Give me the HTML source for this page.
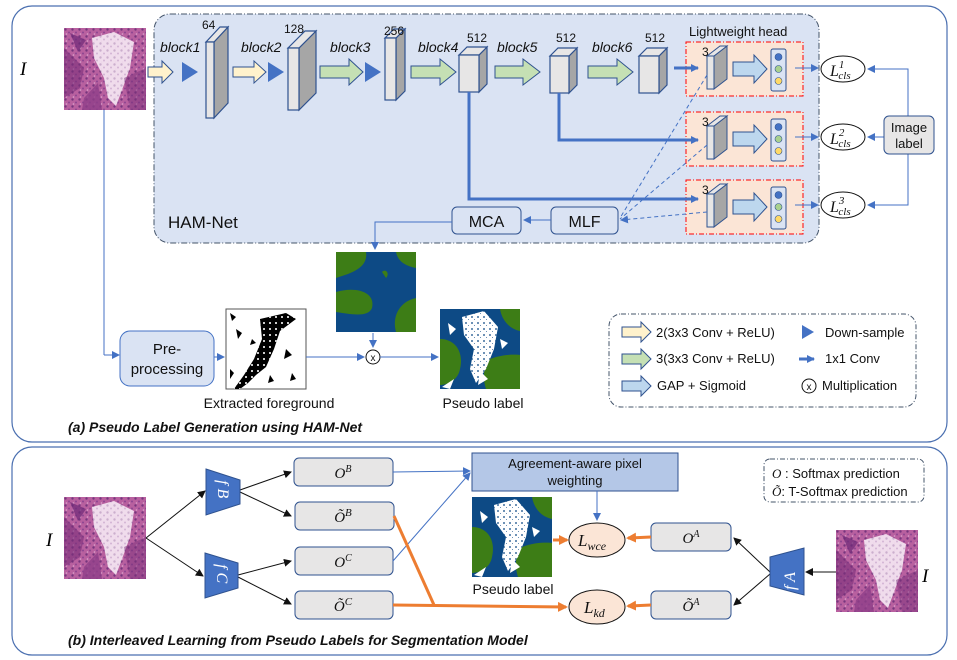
<!DOCTYPE html>
<html><head><meta charset="utf-8"><style>
html,body{margin:0;padding:0;background:#fff;}
svg{display:block;font-family:"Liberation Sans",sans-serif;}
.sr{font-family:"Liberation Serif",serif;font-style:italic;}
</style></head><body>
<svg width="957" height="660" viewBox="0 0 957 660" xmlns="http://www.w3.org/2000/svg">
<defs>
<marker id="ab" markerWidth="8" markerHeight="8" refX="7" refY="4" orient="auto" markerUnits="userSpaceOnUse"><path d="M0,0 L8,4 L0,8 z" fill="#4472c4"/></marker>
<marker id="abk" markerWidth="8" markerHeight="8" refX="7" refY="4" orient="auto" markerUnits="userSpaceOnUse"><path d="M0,0 L8,4 L0,8 z" fill="#111"/></marker>
<marker id="ao" markerWidth="10" markerHeight="10" refX="8" refY="5" orient="auto" markerUnits="userSpaceOnUse"><path d="M0,0 L10,5 L0,10 z" fill="#ed7d31"/></marker>
<pattern id="dots" width="7" height="7" patternUnits="userSpaceOnUse">
<circle cx="1.5" cy="1.5" r="1.2" fill="#5a2470"/><circle cx="5" cy="4.5" r="1" fill="#7a3a8a"/><circle cx="2.5" cy="6" r=".8" fill="#e8c0e0"/>
</pattern>
<pattern id="spk" width="6" height="6" patternUnits="userSpaceOnUse">
<rect x="1" y="1" width="2" height="2" fill="#0d4a85"/><rect x="4" y="4" width="1" height="1" fill="#0d4a85"/>
</pattern>
<pattern id="spk2" width="6" height="6" patternUnits="userSpaceOnUse">
<rect x="1" y="1" width="2" height="2" fill="#fff"/><rect x="4" y="4" width="1" height="1" fill="#000"/>
</pattern>
<g id="histo">
<rect x="0" y="0" width="82" height="82" fill="#b8609f"/>
<rect x="0" y="0" width="82" height="82" fill="url(#dots)" opacity=".7"/>
<path d="M28,10 L50,4 L70,14 L66,40 L58,62 L52,78 L44,70 L40,50 L30,30 z" fill="#f0dcec"/>
<path d="M28,10 L50,4 L70,14 L66,40 L58,62 L52,78 L44,70 L40,50 L30,30 z" fill="url(#dots)" opacity=".25"/>
<path d="M0,20 L20,40 L16,60 L0,70 z" fill="#7a2f7a" opacity=".6"/>
<path d="M60,50 L82,40 L82,82 L66,82 z" fill="#7a2f7a" opacity=".5"/>
<path d="M20,70 L34,55 L38,82 L18,82 z" fill="#8e3f88" opacity=".8"/>
<path d="M6,5 L22,12 L14,24 z" fill="#6d2a78" opacity=".7"/>
</g>
<g id="map">
<rect width="80" height="80" fill="#0d4a85"/>
<path d="M0,0 L30,0 C32,12 22,18 12,22 L0,26 z" fill="#3d7d16"/>
<path d="M0,40 C20,34 40,40 36,56 C32,66 14,62 0,60 z" fill="#3d7d16"/>
<path d="M60,0 L80,0 L80,16 C70,14 62,10 60,0z" fill="#3d7d16"/>
<path d="M80,46 C62,50 56,66 60,80 L80,80 z" fill="#3d7d16"/>
<path d="M46,20 C50,16 54,22 50,26 z" fill="#3d7d16"/>
</g>
<g id="pl">
<rect width="80" height="80" fill="#0d4a85"/>
<path d="M0,30 C16,30 24,44 20,60 C18,72 6,76 0,76 z" fill="#3d7d16"/>
<path d="M50,50 C66,44 80,46 80,46 L80,80 L46,80 C42,68 44,56 50,50 z" fill="#3d7d16"/>
<path d="M60,0 L80,0 L80,22 C70,20 62,12 60,0 z" fill="#3d7d16"/>
<path d="M22,8 L44,2 L58,18 L54,40 L46,60 L36,74 L30,60 L34,40 L24,26 z" fill="#fff"/>
<path d="M22,8 L44,2 L58,18 L54,40 L46,60 L36,74 L30,60 L34,40 L24,26 z" fill="url(#spk)" opacity=".6"/>
<path d="M8,14 L16,20 L10,26 z M60,30 L68,34 L62,40 z M40,62 L48,70 L38,76 z M2,78 L14,70 L10,80z" fill="#fff"/>
</g>
<g id="fg">
<rect width="80" height="80" fill="#fff" stroke="#555" stroke-width="1"/>
<path d="M34,10 L60,4 L70,10 L54,22 L48,40 L40,58 L30,66 L22,74 L14,80 L8,80 L18,66 L28,50 L36,30 z" fill="#000"/>
<path d="M34,10 L60,4 L70,10 L54,22 L48,40 L40,58 L30,66 L22,74 L14,80 L8,80 L18,66 L28,50 L36,30 z" fill="url(#spk2)" opacity=".8"/>
<path d="M10,20 L16,24 L12,30 z M60,40 L66,46 L58,50z M4,60 L8,64 L4,70z M44,66 L48,72 L42,74z M26,30 L30,34 L24,36z M4,4 L10,8 L6,12z M66,64 L70,70 L64,72z" fill="#000"/>
</g>
</defs>

<rect x="12" y="6" width="935" height="436" rx="20" fill="#fff" stroke="#4a6fb0" stroke-width="1.2"/>
<rect x="12" y="447" width="935" height="208" rx="20" fill="#fff" stroke="#4a6fb0" stroke-width="1.2"/>

<rect x="154" y="14" width="665" height="229" rx="16" fill="#dae3f3" stroke="#44546a" stroke-width="1" stroke-dasharray="6,2,1,2"/>
<text x="168" y="228" font-size="17" fill="#111">HAM-Net</text>

<use href="#histo" x="64" y="28"/>
<text x="20" y="75" class="sr" font-size="19">I</text>
<line x1="104" y1="110" x2="104" y2="355" stroke="#4472c4" stroke-width="1"/>
<line x1="104" y1="355" x2="119" y2="355" stroke="#4472c4" stroke-width="1" marker-end="url(#ab)"/>

<g stroke="#2f528f" stroke-width="1">
<path d="M148,67 L162,67 L162,61 L173,72 L162,83 L162,77 L148,77 z" fill="#fff2cc"/>
<path d="M233,67 L254,67 L254,61 L266,72 L254,83 L254,77 L233,77 z" fill="#fff2cc"/>
<path d="M320,66 L349,66 L349,59 L363,72 L349,85 L349,78 L320,78 z" fill="#c5e0b4"/>
<path d="M411,66 L440,66 L440,59 L456,72 L440,85 L440,78 L411,78 z" fill="#c5e0b4"/>
<path d="M495,66 L523,66 L523,59 L540,72 L523,85 L523,78 L495,78 z" fill="#c5e0b4"/>
<path d="M588,66 L617,66 L617,59 L633,72 L617,85 L617,78 L588,78 z" fill="#c5e0b4"/>
</g>
<g fill="#4472c4">
<path d="M182,62 L198,72 L182,82 z"/>
<path d="M268,62 L284,72 L268,82 z"/>
<path d="M365,62 L381,72 L365,82 z"/>
</g>

<g stroke="#2f528f" stroke-width="1.2">
<path d="M214,42 L228,27 L228,103 L214,118 z" fill="#a6a6a6"/>
<path d="M206,42 L220,27 L228,27 L214,42 z" fill="#e7e6e6"/>
<rect x="206" y="42" width="8" height="76" fill="#e7e6e6"/>
<path d="M299,48 L316,31 L316,93 L299,110 z" fill="#a6a6a6"/>
<path d="M288,48 L305,31 L316,31 L299,48 z" fill="#e7e6e6"/>
<rect x="288" y="48" width="11" height="62" fill="#e7e6e6"/>
<path d="M396,38 L405,29 L405,91 L396,100 z" fill="#a6a6a6"/>
<path d="M385,38 L394,29 L405,29 L396,38 z" fill="#e7e6e6"/>
<rect x="385" y="38" width="11" height="62" fill="#e7e6e6"/>
<path d="M479,55 L487,47 L487,84 L479,92 z" fill="#a6a6a6"/>
<path d="M459,55 L467,47 L487,47 L479,55 z" fill="#e7e6e6"/>
<rect x="459" y="55" width="20" height="37" fill="#e7e6e6"/>
<path d="M569,56 L577,48 L577,85 L569,93 z" fill="#a6a6a6"/>
<path d="M550,56 L558,48 L577,48 L569,56 z" fill="#e7e6e6"/>
<rect x="550" y="56" width="19" height="37" fill="#e7e6e6"/>
<path d="M659,56 L667,48 L667,85 L659,93 z" fill="#a6a6a6"/>
<path d="M639,56 L647,48 L667,48 L659,56 z" fill="#e7e6e6"/>
<rect x="639" y="56" width="20" height="37" fill="#e7e6e6"/>
</g>
<g font-size="14" font-style="italic" fill="#111">
<text x="160" y="52">block1</text><text x="241" y="52">block2</text><text x="330" y="52">block3</text>
<text x="418" y="52">block4</text><text x="497" y="52">block5</text><text x="592" y="52">block6</text>
</g>
<g font-size="12" fill="#111">
<text x="202" y="29">64</text><text x="284" y="33">128</text><text x="384" y="35">256</text>
<text x="467" y="42">512</text><text x="556" y="42">512</text><text x="645" y="42">512</text>
</g>

<text x="689" y="36" font-size="13" fill="#111">Lightweight head</text>
<g>
<rect x="686" y="42" width="117" height="54" fill="#fbe5d6" stroke="#ff0000" stroke-width="1" stroke-dasharray="5,2,1,2"/>
<rect x="686" y="112" width="117" height="54" fill="#fbe5d6" stroke="#ff0000" stroke-width="1" stroke-dasharray="5,2,1,2"/>
<rect x="686" y="180" width="117" height="54" fill="#fbe5d6" stroke="#ff0000" stroke-width="1" stroke-dasharray="5,2,1,2"/>
</g>
<g stroke="#2f528f" stroke-width="1">
<g transform="translate(707,46)"><path d="M7,10 L20,0 L20,33 L7,43 z" fill="#a6a6a6"/><rect x="0" y="10" width="7" height="33" fill="#e7e6e6"/><path d="M0,10 L13,0 L20,0 L7,10z" fill="#e7e6e6"/></g>
<g transform="translate(707,116)"><path d="M7,10 L20,0 L20,33 L7,43 z" fill="#a6a6a6"/><rect x="0" y="10" width="7" height="33" fill="#e7e6e6"/><path d="M0,10 L13,0 L20,0 L7,10z" fill="#e7e6e6"/></g>
<g transform="translate(707,184)"><path d="M7,10 L20,0 L20,33 L7,43 z" fill="#a6a6a6"/><rect x="0" y="10" width="7" height="33" fill="#e7e6e6"/><path d="M0,10 L13,0 L20,0 L7,10z" fill="#e7e6e6"/></g>
<path d="M733,62 L754,62 L754,55 L767,69 L754,83 L754,76 L733,76 z" fill="#bdd7ee"/>
<path d="M733,132 L754,132 L754,125 L767,139 L754,153 L754,146 L733,146 z" fill="#bdd7ee"/>
<path d="M733,200 L754,200 L754,193 L767,207 L754,221 L754,214 L733,214 z" fill="#bdd7ee"/>
<rect x="771" y="49" width="15" height="42" rx="2" fill="#dae3f3"/>
<rect x="771" y="119" width="15" height="42" rx="2" fill="#dae3f3"/>
<rect x="771" y="187" width="15" height="42" rx="2" fill="#dae3f3"/>
</g>
<g stroke="#2f528f" stroke-width=".6">
<circle cx="778.5" cy="57" r="3.5" fill="#4472c4"/><circle cx="778.5" cy="69" r="3.5" fill="#a9d18e"/><circle cx="778.5" cy="81" r="3.5" fill="#ffd966"/>
<circle cx="778.5" cy="127" r="3.5" fill="#4472c4"/><circle cx="778.5" cy="139" r="3.5" fill="#a9d18e"/><circle cx="778.5" cy="151" r="3.5" fill="#ffd966"/>
<circle cx="778.5" cy="195" r="3.5" fill="#4472c4"/><circle cx="778.5" cy="207" r="3.5" fill="#a9d18e"/><circle cx="778.5" cy="219" r="3.5" fill="#ffd966"/>
</g>
<g font-size="12" fill="#111"><text x="702" y="56">3</text><text x="702" y="126">3</text><text x="702" y="194">3</text></g>

<g stroke="#4472c4" stroke-width="3" fill="none">
<path d="M469,92 L469,199 L698,199" marker-end="url(#ab)"/>
<path d="M559,93 L559,140 L698,140" marker-end="url(#ab)"/>
<path d="M674,68 L698,68" marker-end="url(#ab)"/>
</g>
<g stroke="#4472c4" stroke-width="1" stroke-dasharray="4,3" fill="none">
<line x1="707" y1="75" x2="620" y2="218"/>
<line x1="707" y1="145" x2="620" y2="219"/>
<line x1="707" y1="212" x2="621" y2="220" marker-end="url(#ab)"/>
</g>
<rect x="551" y="207" width="67" height="27" rx="5" fill="#dae3f3" stroke="#2f528f" stroke-width="1"/>
<text x="584.5" y="227" font-size="16" text-anchor="middle" fill="#111">MLF</text>
<rect x="452" y="207" width="69" height="27" rx="5" fill="#dae3f3" stroke="#2f528f" stroke-width="1"/>
<text x="486.5" y="227" font-size="16" text-anchor="middle" fill="#111">MCA</text>
<line x1="551" y1="220" x2="524" y2="220" stroke="#4472c4" stroke-width="1" marker-end="url(#ab)"/>
<path d="M452,222 L375,222 L375,249" stroke="#4472c4" stroke-width="1" fill="none" marker-end="url(#ab)"/>

<g stroke="#4472c4" stroke-width="1" fill="none">
<line x1="795" y1="68" x2="818" y2="68" marker-end="url(#ab)"/>
<line x1="795" y1="137" x2="818" y2="137" marker-end="url(#ab)"/>
<line x1="795" y1="205" x2="818" y2="205" marker-end="url(#ab)"/>
<path d="M908,116 L908,69 L868,69" marker-end="url(#ab)"/>
<path d="M884,137 L868,137" marker-end="url(#ab)"/>
<path d="M908,153 L908,205 L868,205" marker-end="url(#ab)"/>
</g>
<g fill="#fff" stroke="#111" stroke-width="1">
<ellipse cx="843" cy="69" rx="22" ry="13"/><ellipse cx="843" cy="137" rx="22" ry="13"/><ellipse cx="843" cy="205" rx="22" ry="13"/>
</g>
<g class="sr" fill="#111">
<text x="830" y="76" font-size="16">L<tspan font-size="11" dy="-8">1</tspan><tspan font-size="11" dx="-6" dy="11">cls</tspan></text>
<text x="830" y="144" font-size="16">L<tspan font-size="11" dy="-8">2</tspan><tspan font-size="11" dx="-6" dy="11">cls</tspan></text>
<text x="830" y="212" font-size="16">L<tspan font-size="11" dy="-8">3</tspan><tspan font-size="11" dx="-6" dy="11">cls</tspan></text>
</g>
<rect x="884" y="116" width="50" height="38" rx="5" fill="#e7e6e6" stroke="#2f528f" stroke-width="1"/>
<text x="909" y="132" font-size="13" text-anchor="middle" fill="#111">Image</text>
<text x="909" y="148" font-size="13" text-anchor="middle" fill="#111">label</text>

<use href="#map" x="336" y="252"/>
<line x1="373" y1="333" x2="373" y2="347" stroke="#4472c4" stroke-width="1" marker-end="url(#ab)"/>
<rect x="120" y="331" width="94" height="55" rx="10" fill="#dae3f3" stroke="#4472c4" stroke-width="1"/>
<text x="167" y="354" font-size="15" text-anchor="middle" fill="#111">Pre-</text>
<text x="167" y="374" font-size="15" text-anchor="middle" fill="#111">processing</text>
<line x1="214" y1="357" x2="224" y2="357" stroke="#4472c4" stroke-width="1" marker-end="url(#ab)"/>
<use href="#fg" x="226" y="309"/>
<text x="269" y="408" font-size="14" text-anchor="middle" fill="#111">Extracted foreground</text>
<line x1="306" y1="357" x2="364" y2="357" stroke="#4472c4" stroke-width="1" marker-end="url(#ab)"/>
<circle cx="373" cy="357" r="7" fill="#fff" stroke="#111" stroke-width="1"/>
<text x="373" y="361" font-size="10" text-anchor="middle" fill="#111">x</text>
<line x1="380" y1="357" x2="438" y2="357" stroke="#4472c4" stroke-width="1" marker-end="url(#ab)"/>
<use href="#pl" x="440" y="309"/>
<text x="483" y="408" font-size="14" text-anchor="middle" fill="#111">Pseudo label</text>

<rect x="609" y="314" width="307" height="93" rx="12" fill="#fff" stroke="#44546a" stroke-width="1" stroke-dasharray="5,2,1,2"/>
<g stroke="#2f528f" stroke-width="1">
<path d="M622,327 L641,327 L641,322 L651,332 L641,342 L641,337 L622,337 z" fill="#fff2cc"/>
<path d="M622,354 L641,354 L641,349 L651,359 L641,369 L641,364 L622,364 z" fill="#c5e0b4"/>
<path d="M622,381 L641,381 L641,376 L651,386 L641,396 L641,391 L622,391 z" fill="#bdd7ee"/>
</g>
<g font-size="13" fill="#111">
<text x="656" y="337">2(3x3 Conv + ReLU)</text>
<text x="656" y="363">3(3x3 Conv + ReLU)</text>
<text x="657" y="390">GAP + Sigmoid</text>
<text x="825" y="337">Down-sample</text>
<text x="825" y="363">1x1 Conv</text>
<text x="822" y="390">Multiplication</text>
</g>
<path d="M802,325 L814,332 L802,339 z" fill="#4472c4"/>
<line x1="799" y1="359" x2="814" y2="359" stroke="#4472c4" stroke-width="3" marker-end="url(#ab)"/>
<circle cx="809" cy="386" r="7" fill="#fff" stroke="#111" stroke-width="1"/>
<text x="809" y="390" font-size="10" text-anchor="middle" fill="#111">x</text>

<text x="68" y="432" font-size="14" font-weight="bold" font-style="italic" fill="#111">(a) Pseudo Label Generation using HAM-Net</text>

<use href="#histo" x="64" y="497"/>
<text x="46" y="546" class="sr" font-size="19">I</text>
<g stroke="#111" stroke-width="1" fill="none">
<line x1="146" y1="538" x2="205" y2="491" marker-end="url(#abk)"/>
<line x1="146" y1="538" x2="203" y2="576" marker-end="url(#abk)"/>
<line x1="240" y1="490" x2="291" y2="472" marker-end="url(#abk)"/>
<line x1="240" y1="492" x2="291" y2="516" marker-end="url(#abk)"/>
<line x1="238" y1="575" x2="291" y2="561" marker-end="url(#abk)"/>
<line x1="238" y1="577" x2="291" y2="604" marker-end="url(#abk)"/>
<line x1="770" y1="572" x2="734" y2="538" marker-end="url(#abk)"/>
<line x1="770" y1="574" x2="734" y2="605" marker-end="url(#abk)"/>
<line x1="836" y1="572" x2="806" y2="572" marker-end="url(#abk)"/>
</g>
<path d="M206,469 L240,480 L240,504 L206,515 z" fill="#4472c4" stroke="#2f528f"/>
<path d="M205,553 L238,563 L238,588 L205,598 z" fill="#4472c4" stroke="#2f528f"/>
<path d="M770,557 L804,548 L804,595 L770,586 z" fill="#4472c4" stroke="#2f528f"/>
<text class="sr" font-size="16" fill="#fff" transform="translate(218,480) rotate(90)">f B</text>
<text class="sr" font-size="16" fill="#fff" transform="translate(217,564) rotate(90)">f C</text>
<text class="sr" font-size="16" fill="#fff" transform="translate(795,590) rotate(-90)">f A</text>

<g fill="#e7e6e6" stroke="#2f528f" stroke-width="1">
<rect x="294" y="458" width="99" height="28" rx="5"/>
<rect x="295" y="502" width="99" height="28" rx="5"/>
<rect x="295" y="547" width="98" height="28" rx="5"/>
<rect x="295" y="591" width="98" height="28" rx="5"/>
<rect x="651" y="523" width="80" height="28" rx="5"/>
<rect x="651" y="591" width="80" height="28" rx="5"/>
</g>
<g class="sr" font-size="15" fill="#111" text-anchor="middle">
<text x="343" y="478">O<tspan font-size="10" dy="-6">B</tspan></text>
<text x="343" y="522">Õ<tspan font-size="11" dy="-6">B</tspan></text>
<text x="343" y="567">O<tspan font-size="10" dy="-6">C</tspan></text>
<text x="343" y="611">Õ<tspan font-size="11" dy="-6">C</tspan></text>
<text x="691" y="543">O<tspan font-size="10" dy="-6">A</tspan></text>
<text x="691" y="611">Õ<tspan font-size="10" dy="-6">A</tspan></text>
</g>

<rect x="472" y="453" width="206" height="38" fill="#b4c7e7" stroke="#2f528f" stroke-width="1"/>
<text x="575" y="468" font-size="13" text-anchor="middle" fill="#111">Agreement-aware pixel</text>
<text x="575" y="485" font-size="13" text-anchor="middle" fill="#111">weighting</text>
<g stroke="#4472c4" stroke-width="1" fill="none">
<line x1="393" y1="472" x2="470" y2="471" marker-end="url(#ab)"/>
<line x1="393" y1="561" x2="470" y2="473" marker-end="url(#ab)"/>
<line x1="597" y1="491" x2="597" y2="520" marker-end="url(#ab)"/>
</g>
<use href="#pl" x="472" y="497"/>
<text x="513" y="594" font-size="14" text-anchor="middle" fill="#111">Pseudo label</text>

<g stroke="#ed7d31" stroke-width="3" fill="none">
<line x1="394" y1="516" x2="434" y2="605"/>
<line x1="393" y1="605" x2="566" y2="607" marker-end="url(#ao)"/>
<line x1="553" y1="540" x2="567" y2="540" marker-end="url(#ao)"/>
<line x1="651" y1="537" x2="628" y2="538" marker-end="url(#ao)"/>
<line x1="651" y1="605" x2="628" y2="606" marker-end="url(#ao)"/>
</g>
<ellipse cx="597" cy="540" rx="28" ry="17" fill="#fbe5d6" stroke="#111" stroke-width="1"/>
<ellipse cx="597" cy="607" rx="28" ry="17" fill="#fbe5d6" stroke="#111" stroke-width="1"/>
<text x="578" y="546" class="sr" font-size="17" fill="#111">L<tspan font-size="12" dy="4">wce</tspan></text>
<text x="584" y="613" class="sr" font-size="17" fill="#111">L<tspan font-size="12" dy="4">kd</tspan></text>

<use href="#histo" x="836" y="530"/>
<text x="922" y="582" class="sr" font-size="19">I</text>

<rect x="764" y="459" width="160" height="43" rx="6" fill="#fff" stroke="#44546a" stroke-width="1" stroke-dasharray="5,2,1,2"/>
<text x="772" y="478" font-size="13" fill="#111"><tspan class="sr">O</tspan> : Softmax prediction</text>
<text x="772" y="496" font-size="13" fill="#111"><tspan class="sr">Õ</tspan>: T-Softmax prediction</text>

<text x="68" y="645" font-size="14" font-weight="bold" font-style="italic" fill="#111">(b) Interleaved Learning from Pseudo Labels for Segmentation Model</text>
</svg>
</body></html>
